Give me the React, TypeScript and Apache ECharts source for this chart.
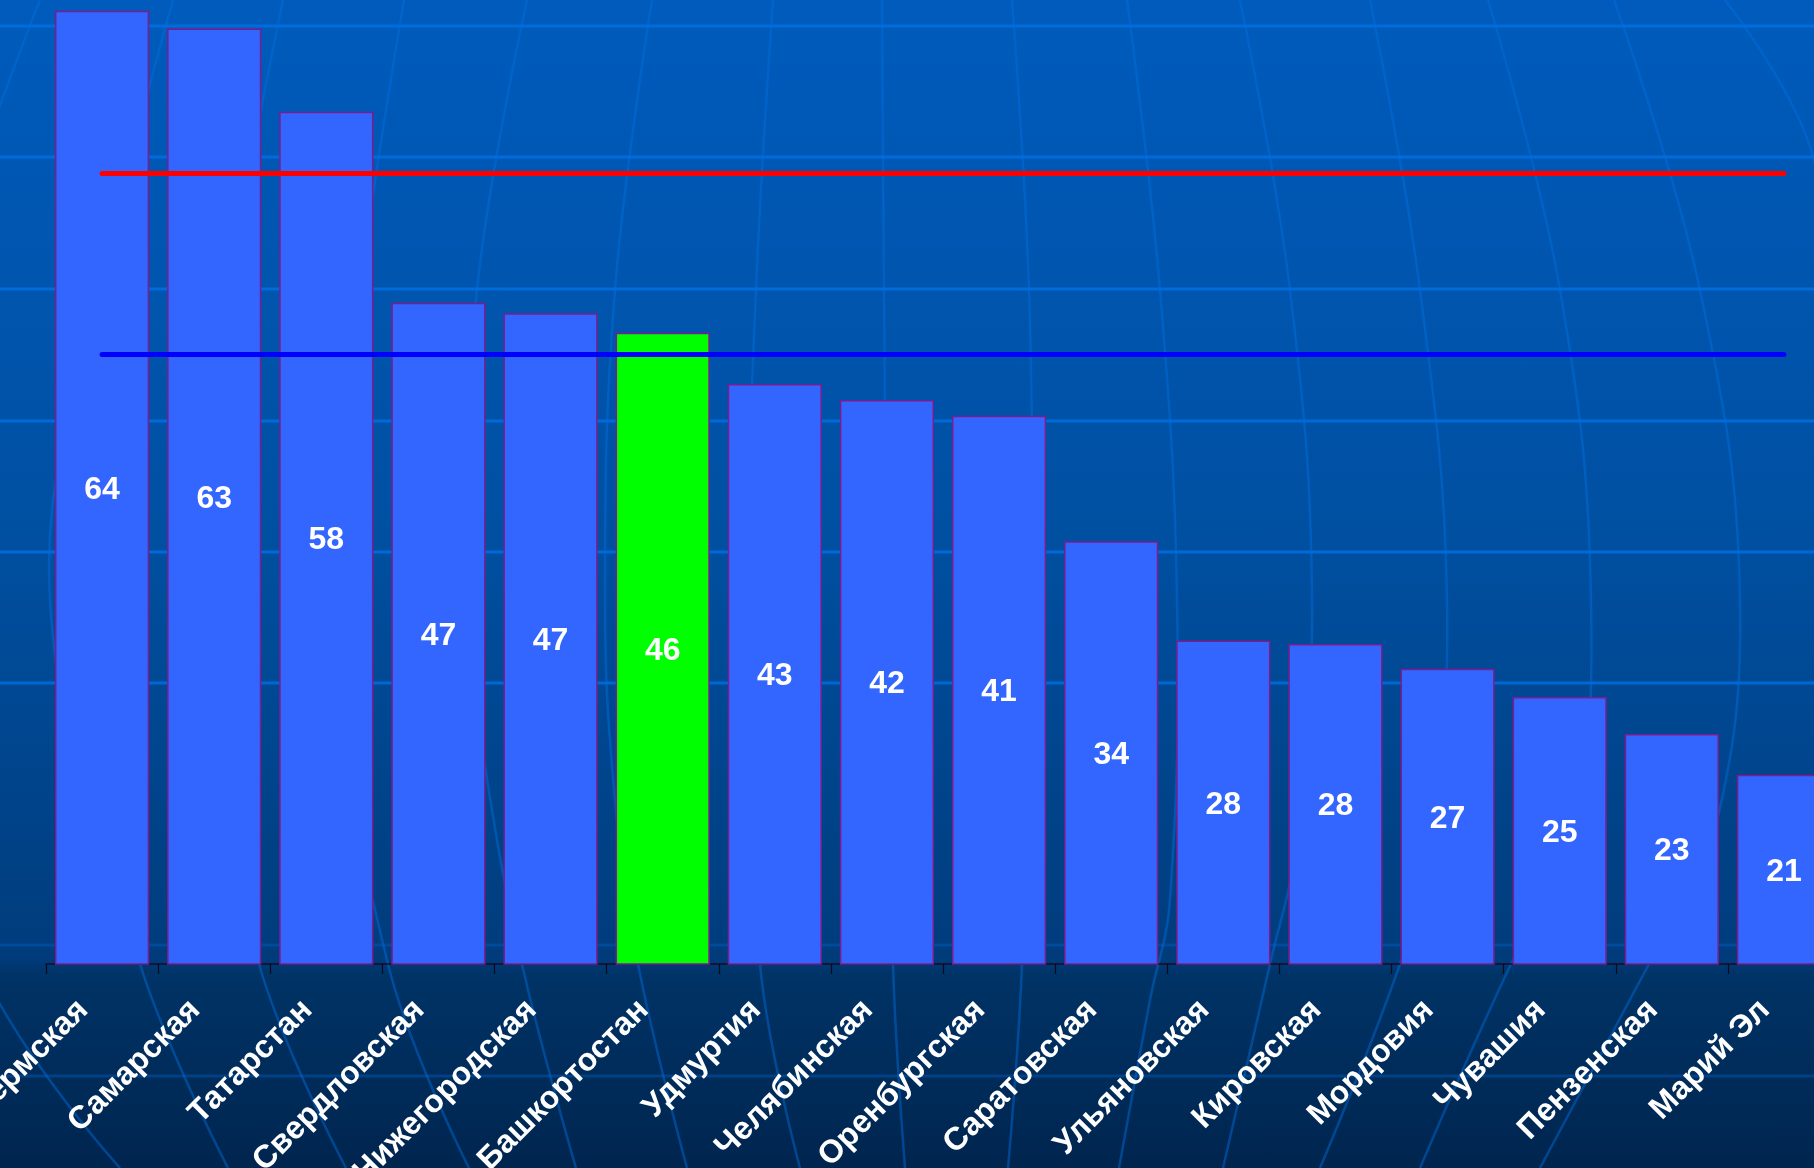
import React, { useEffect, useRef } from "react";
import * as echarts from "echarts";

// ---- data ----
const categories = [
  "Пермская",
  "Самарская",
  "Татарстан",
  "Свердловская",
  "Нижегородская",
  "Башкортостан",
  "Удмуртия",
  "Челябинская",
  "Оренбургская",
  "Саратовская",
  "Ульяновская",
  "Кировская",
  "Мордовия",
  "Чувашия",
  "Пензенская",
  "Марий Эл",
];
const values = [63.9, 62.9, 58.2, 47.4, 46.8, 45.7, 42.8, 41.9, 41.0, 33.9, 28.3, 28.1, 26.7, 25.1, 23.0, 20.7];
const highlightIndex = 5;
const redLevel = 54.7;
const blueLevel = 44.5;
const axisMin = 10;
const axisMax = 70;

// ---- background decoration (globe grid) ----
const W = 1814;
const H = 1168;
const bgLinesBright = [26, 157, 289, 421, 552, 683];
const bgLinesFaint = [945, 1076];
const meridians: number[][][] = [
  [[40, 0], [-60, 290], [-120, 600], [-20, 964], [120, 1168]],
  [[173, 0], [100, 290], [50, 600], [140, 964], [228, 1168]],
  [[283, 0], [228, 290], [184, 600], [259, 964], [346, 1168]],
  [[404, 0], [360, 290], [330, 600], [388, 964], [469, 1168]],
  [[527, 0], [477, 290], [465, 600], [484, 760], [522, 964], [576, 1168]],
  [[652, 0], [615, 290], [605, 600], [615, 800], [638, 964], [687, 1168]],
  [[773, 0], [756, 290], [748, 600], [760, 964], [800, 1168]],
  [[882, 0], [884, 290], [887, 600], [893, 964], [905, 1168]],
  [[1012, 0], [1029, 290], [1031, 600], [1022, 964], [1008, 1168]],
  [[1127, 0], [1160, 290], [1177, 600], [1170, 900], [1150, 1000], [1119, 1168]],
  [[1240, 0], [1290, 290], [1312, 600], [1295, 850], [1270, 964], [1223, 1168]],
  [[1370, 0], [1420, 290], [1447, 600], [1430, 850], [1400, 964], [1320, 1168]],
  [[1488, 0], [1560, 290], [1591, 600], [1570, 850], [1511, 964], [1420, 1168]],
  [[1614, 0], [1700, 290], [1740, 600], [1710, 850], [1649, 964], [1540, 1168]],
  [[1725, 0], [1814, 160], [1880, 600]],
];

const FONT = "'Liberation Sans', Arial, sans-serif";

export default function App() {
  const ref = useRef<HTMLDivElement>(null);

  useEffect(() => {
    if (!ref.current) return;
    const chart = echarts.init(ref.current, null, { renderer: "svg" });

    const graphics: any[] = [];
    graphics.push({
      type: "rect",
      z: -100,
      silent: true,
      shape: { x: 0, y: 0, width: W, height: H },
      style: {
        fill: new echarts.graphic.LinearGradient(0, 0, 0, 1, [
          { offset: 0, color: "#005BBC" },
          { offset: 0.45, color: "#0050A2" },
          { offset: 0.82, color: "#003C7C" },
          { offset: 0.835, color: "#003366" },
          { offset: 1, color: "#00254F" },
        ]),
      },
    });
    bgLinesBright.forEach((y) =>
      graphics.push({
        type: "line",
        z: -90,
        silent: true,
        shape: { x1: 0, y1: y, x2: W, y2: y },
        style: { stroke: "rgba(0,112,230,0.8)", lineWidth: 3 },
      })
    );
    bgLinesFaint.forEach((y) =>
      graphics.push({
        type: "line",
        z: -90,
        silent: true,
        shape: { x1: 0, y1: y, x2: W, y2: y },
        style: { stroke: "rgba(0,90,190,0.45)", lineWidth: 3 },
      })
    );
    meridians.forEach((pts) =>
      graphics.push({
        type: "polyline",
        z: -90,
        silent: true,
        shape: { points: pts, smooth: 0.4 },
        style: { stroke: "rgba(0,110,225,0.45)", lineWidth: 2.5, fill: null },
      })
    );

    chart.setOption({
      animation: false,
      graphic: { elements: graphics },
      grid: {
        left: 46,
        width: 1794,
        top: -97,
        height: 1061,
        containLabel: false,
        outerBoundsMode: "none",
      },
      xAxis: {
        type: "category",
        data: categories,
        boundaryGap: true,
        axisLine: { show: true, lineStyle: { color: "#1A0A2A", width: 1.5 } },
        axisTick: { show: true, length: 10, lineStyle: { color: "#0A0A1A", width: 1.2 } },
        axisLabel: {
          interval: 0,
          rotate: 45,
          margin: 19,
          padding: [0, 29, 0, 0],
          color: "#FFFFFF",
          fontSize: 32,
          fontWeight: "bold",
          fontFamily: FONT,
          hideOverlap: false,
        },
        splitLine: { show: false },
      },
      yAxis: {
        type: "value",
        min: axisMin,
        max: axisMax,
        show: false,
        splitLine: { show: false },
      },
      series: [
        {
          type: "bar",
          data: values.map((v, i) =>
            i === highlightIndex ? { value: v, itemStyle: { color: "#00FF00" } } : v
          ),
          barCategoryGap: "16%",
          itemStyle: { color: "#3366FF", borderColor: "#7D1C8E", borderWidth: 1.5 },
          label: {
            show: true,
            position: "inside",
            color: "#FFFFFF",
            fontSize: 32,
            fontWeight: "bold",
            fontFamily: FONT,
            formatter: (p: any) => String(Math.round(p.value)),
          },
          markLine: {
            silent: true,
            symbol: "none",
            label: { show: false },
            lineStyle: { width: 5, type: "solid", cap: "round" },
            data: [
              [
                { coord: [categories[0], redLevel], lineStyle: { color: "#FF0000", width: 5, type: "solid", cap: "round" } },
                { coord: [categories[categories.length - 1], redLevel] },
              ],
              [
                { coord: [categories[0], blueLevel], lineStyle: { color: "#0000FF", width: 5, type: "solid", cap: "round" } },
                { coord: [categories[categories.length - 1], blueLevel] },
              ],
            ],
          },
        },
      ],
    });

    return () => chart.dispose();
  }, []);

  return (
    <div style={{ position: "fixed", left: 0, top: 0, width: W, height: H, overflow: "hidden" }}>
      <div ref={ref} style={{ width: W, height: H }} />
    </div>
  );
}
